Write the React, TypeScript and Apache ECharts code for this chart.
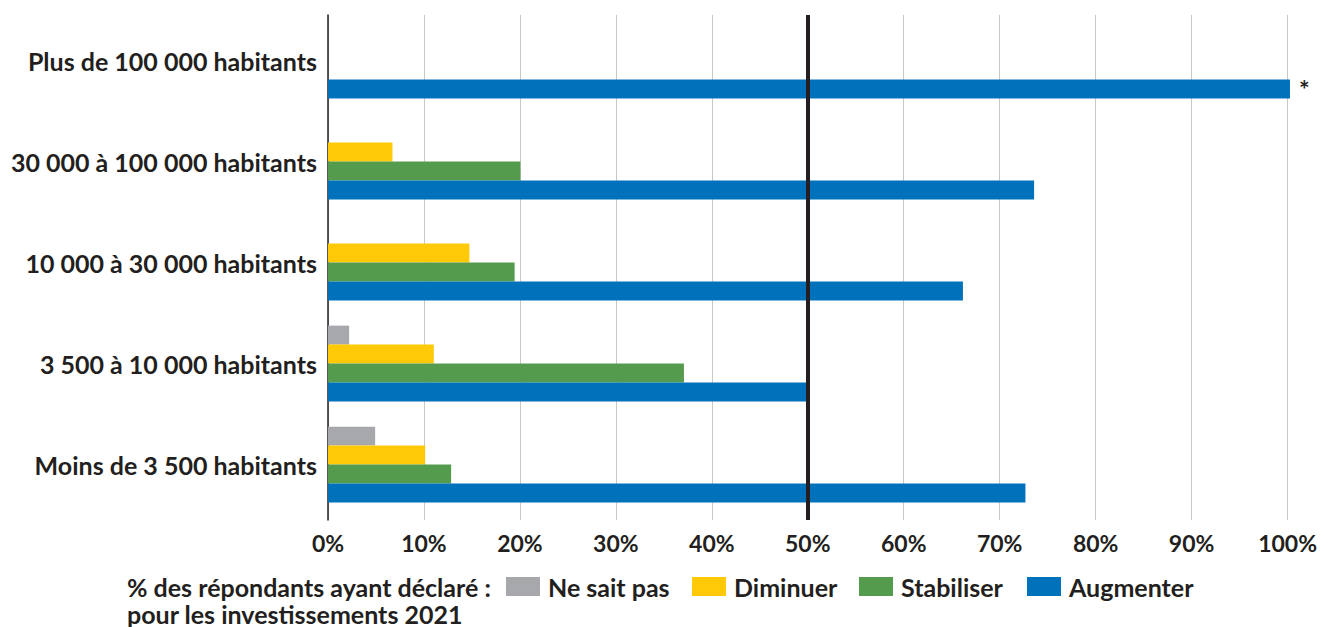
import React, { useEffect, useRef } from "react";
import * as echarts from "echarts";

const categories = [
  "Plus de 100 000 habitants",
  "30 000 à 100 000 habitants",
  "10 000 à 30 000 habitants",
  "3 500 à 10 000 habitants",
  "Moins de 3 500 habitants",
];
const neSaitPas = [0, 0, 0, 2.2, 4.9];
const diminuer = [0, 6.7, 14.7, 11.0, 10.1];
const stabiliser = [0, 20.0, 19.4, 37.0, 12.8];
const augmenter = [100, 73.4, 66.0, 49.7, 72.5];
const seriesNames = ["Ne sait pas", "Diminuer", "Stabiliser", "Augmenter"];
const colors = ["#A7A8AC", "#FFC907", "#559B4E", "#0071BB"];
const xTicks = [0, 10, 20, 30, 40, 50, 60, 70, 80, 90, 100];
const threshold = 50;
const legendTitle = "% des répondants ayant déclaré :\npour les investissements 2021";

const FONT = "Lato, 'Open Sans', sans-serif";
const TXT = "#231F20";

export default function App() {
  const ref = useRef<HTMLDivElement>(null);
  useEffect(() => {
    const chart = echarts.init(ref.current!, null, { renderer: "svg" });
    const values = [neSaitPas, diminuer, stabiliser, augmenter];
    const legendLefts = [506, 692, 859, 1027];
    const series: any[] = values.map((vals, i) => ({
      name: seriesNames[i],
      type: "bar",
      xAxisIndex: 1,
      yAxisIndex: 1,
      barGap: "0%",
      barCategoryGap: "25%",
      itemStyle: { color: colors[i] },
      data: vals.map((v) =>
        i === 3 && v === 100
          ? {
              value: v,
              label: {
                show: true,
                position: "right",
                distance: 9,
                formatter: "*",
                fontSize: 25,
                fontWeight: "bold",
                color: TXT,
                fontFamily: FONT,
              },
            }
          : v
      ),
    }));
    series.push({
      type: "line",
      xAxisIndex: 0,
      yAxisIndex: 0,
      data: [],
      silent: true,
      markLine: {
        silent: true,
        symbol: "none",
        label: { show: false },
        lineStyle: { color: "#231F20", width: 4, type: "solid" },
        data: [{ xAxis: threshold }],
      },
    });
    chart.setOption({
      animation: false,
      grid: [
        { left: 328, right: 30, top: 15, bottom: 107, containLabel: false },
        { left: 328, right: 30, top: 10, bottom: 112, containLabel: false },
      ],
      legend: seriesNames.map((n, i) => ({
        data: [n],
        left: legendLefts[i],
        top: 574,
        padding: 0,
        itemWidth: 34,
        itemHeight: 19,
        icon: "rect",
        itemGap: 0,
        textStyle: { fontSize: 25, fontWeight: "bold", color: TXT, fontFamily: FONT, padding: [0, 0, 0, 3] },
        selectedMode: false,
      })),
      xAxis: [
        {
          type: "value",
          gridIndex: 0,
          min: 0,
          max: 100,
          interval: 10,
          axisLine: { show: false },
          axisTick: { show: false },
          splitLine: { show: true, lineStyle: { color: "#C8C8C8", width: 1 } },
          axisLabel: {
            formatter: (v: number) => (xTicks.includes(v) ? v + "%" : ""),
            fontSize: 23,
            fontWeight: "bold",
            color: TXT,
            fontFamily: FONT,
            margin: 11,
          },
        },
        {
          type: "value",
          gridIndex: 1,
          min: 0,
          max: 100,
          interval: 10,
          show: false,
        },
      ],
      yAxis: [
        {
          type: "category",
          gridIndex: 0,
          inverse: true,
          data: categories,
          axisLine: { show: true, lineStyle: { color: TXT, width: 1.5 } },
          axisTick: { show: false },
          axisLabel: { show: false },
        },
        {
          type: "category",
          gridIndex: 1,
          inverse: true,
          data: categories,
          axisLine: { show: false },
          axisTick: { show: false },
          axisLabel: {
            fontSize: 25,
            fontWeight: "bold",
            color: TXT,
            fontFamily: FONT,
            margin: 11,
          },
        },
      ],
      graphic: [
        {
          type: "text",
          left: 127,
          top: 573,
          style: {
            text: legendTitle,
            fontSize: 25,
            lineHeight: 27,
            fontWeight: "bold",
            fill: TXT,
            fontFamily: FONT,
          },
        },
      ],
      series,
    });
    return () => chart.dispose();
  }, []);
  return <div ref={ref} style={{ width: 1320, height: 627, position: "absolute", left: 0, top: 0 }} />;
}
